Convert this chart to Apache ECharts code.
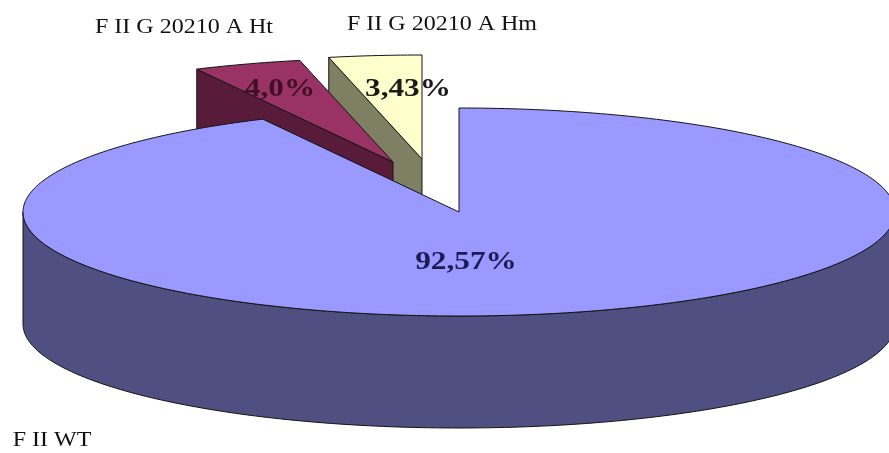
<!DOCTYPE html>
<html>
<head>
<meta charset="utf-8">
<script src="https://cdn.jsdelivr.net/npm/echarts@6/dist/echarts.min.js"></script>
<style>
  html, body { margin: 0; padding: 0; background: #ffffff; }
  #chart { width: 889px; height: 453px; }
</style>
</head>
<body>
<div id="chart"></div>
<script>
// Group shares, percent
const categories = ['F II WT', 'F II G 20210 A Ht', 'F II G 20210 A Hm'];
const shares = [92.57, 4.0, 3.43];
const shareDecimals = [2, 1, 2];

// Slice appearance
const topColors = ['#9999ff', '#993366', '#ffffcc'];
const sideColors = ['#4f4f82', '#581c3a', '#7f7f64'];
const valueLabelColors = ['#1c1c55', '#3f0f24', '#1a1a1a'];
// pull-out of each slice from the pie centre, px
const explodeOffsets = [[0, 0], [-66, -50], [-37, -53]];
// value label and category label offsets from each slice's apex, px
const valueLabelOffsets = [[7, 51], [-113, -72], [-14, -69]];
const nameLabelOffsets = [[-407, 229], [-209, -134], [20, -134]];

// Projected disc: top ellipse centre, radii and thickness
const disc = { cx: 459, cy: 212, rx: 436, ry: 104, depth: 112 };
const serif = '"Liberation Serif", "Times New Roman", serif';
const edge = '#141414';

const total = shares.reduce((s, v) => s + v, 0);
const DEG = Math.PI / 180;

function sliceAngles(i) {
  let before = 0;
  for (let k = 0; k < i; k++) before += shares[k];
  const a = before / total * 2 * Math.PI;
  const b = (before + shares[i]) / total * 2 * Math.PI;
  return [a, b];
}

// angle measured clockwise from 12 o'clock
function pt(c, t, dz) {
  return [c[0] + disc.rx * Math.sin(t), c[1] - disc.ry * Math.cos(t) + (dz || 0)];
}

function arc(c, a, b, dz) {
  const pts = [];
  const n = Math.max(2, Math.ceil((b - a) / DEG));
  for (let k = 0; k <= n; k++) pts.push(pt(c, a + (b - a) * k / n, dz));
  return pts;
}

// back slices first, front slices last
const drawRank = shares.map((v, i) => {
  const [a, b] = sliceAngles(i);
  return { i, depth: -Math.cos((a + b) / 2) };
}).sort((p, q) => p.depth - q.depth).reduce((m, p, r) => { m[p.i] = r; return m; }, {});

function renderSlice(params, api) {
  const i = params.dataIndex;
  const value = api.value(0);
  const [a, b] = sliceAngles(i);
  const c = [disc.cx + explodeOffsets[i][0], disc.cy + explodeOffsets[i][1]];
  const h = disc.depth;
  const base = drawRank[i] * 10;
  const children = [];

  // outer rim, front half only
  const s0 = Math.max(a, 90 * DEG), s1 = Math.min(b, 270 * DEG);
  if (s1 > s0) {
    const topEdge = arc(c, s0, s1, 0);
    const botEdge = arc(c, s0, s1, h).reverse();
    children.push({
      type: 'polygon', z2: base,
      shape: { points: topEdge.concat(botEdge) },
      style: { fill: sideColors[i], stroke: edge, lineWidth: 1 }
    });
  }

  // radial cut faces that turn toward the viewer
  const walls = [];
  if (Math.sin(a) < -1e-6) walls.push(a);
  if (Math.sin(b) > 1e-6) walls.push(b);
  walls.forEach(t => {
    const r = pt(c, t, 0);
    children.push({
      type: 'polygon', z2: base + 1,
      shape: { points: [c, r, [r[0], r[1] + h], [c[0], c[1] + h]] },
      style: { fill: sideColors[i], stroke: edge, lineWidth: 1 }
    });
  });

  // top face
  children.push({
    type: 'polygon', z2: base + 2,
    shape: { points: [c].concat(arc(c, a, b, 0)) },
    style: { fill: topColors[i], stroke: edge, lineWidth: 1, lineJoin: 'round' }
  });

  // value label
  const pct = value.toFixed(shareDecimals[i]).replace('.', ',') + '%';
  children.push({
    type: 'text', z2: 100,
    x: c[0] + valueLabelOffsets[i][0], y: c[1] + valueLabelOffsets[i][1],
    scaleX: 1.25,
    style: {
      text: pct, fill: valueLabelColors[i],
      font: 'bold 25px ' + serif, align: 'center', verticalAlign: 'middle'
    }
  });

  // category label
  children.push({
    type: 'text', z2: 100,
    x: c[0] + nameLabelOffsets[i][0], y: c[1] + nameLabelOffsets[i][1],
    scaleX: 1.2,
    style: {
      text: categories[i], fill: '#111111',
      font: '20px ' + serif, align: 'center', verticalAlign: 'middle'
    }
  });

  return { type: 'group', children };
}

const chart = echarts.init(document.getElementById('chart'), null, { renderer: 'canvas' });
chart.setOption({
  backgroundColor: '#ffffff',
  animation: false,
  series: [{
    type: 'custom',
    coordinateSystem: 'none',
    silent: true,
    renderItem: renderSlice,
    data: shares.map((v, i) => ({ name: categories[i], value: [v] }))
  }]
});
</script>
</body>
</html>
